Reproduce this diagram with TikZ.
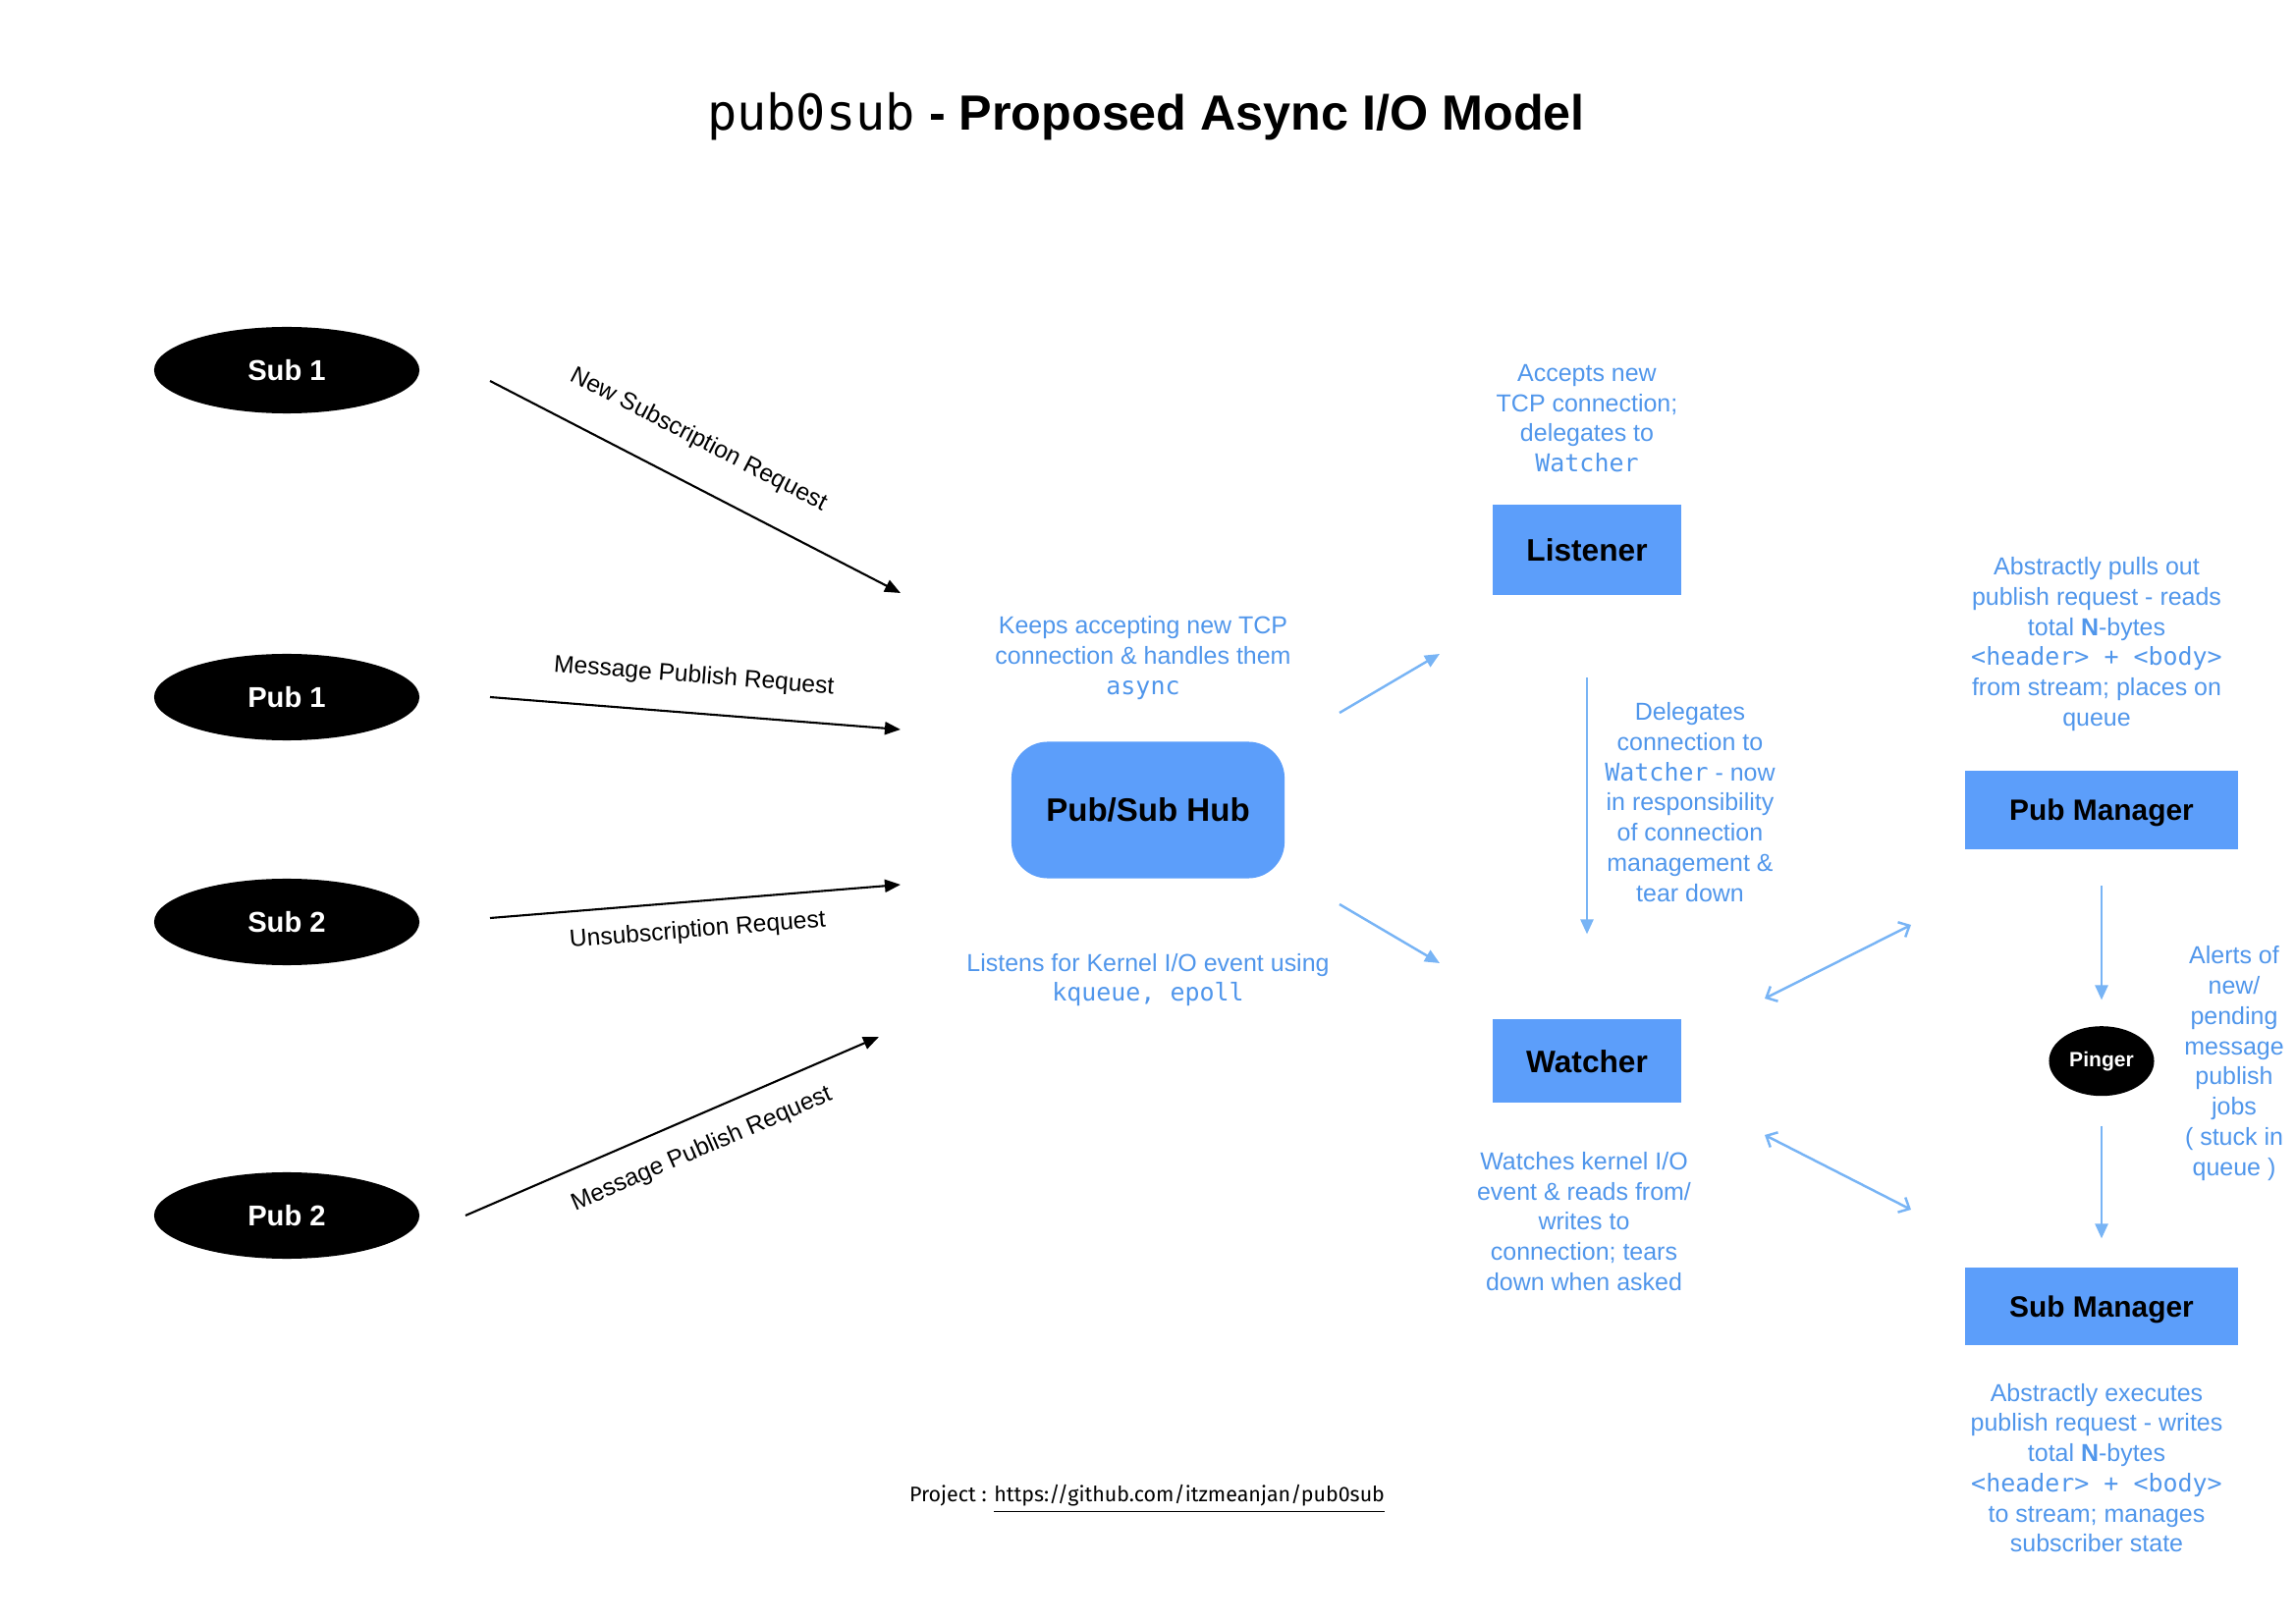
\documentclass[tikz,border=0pt]{standalone}
\usepackage{fontspec}
\setmainfont{Liberation Sans}
\setmonofont{DejaVu Sans Mono}
\newfontfamily\footfont{Fira Sans}
\usetikzlibrary{positioning}
\usetikzlibrary{calc}
\usetikzlibrary{arrows.meta}
\usetikzlibrary{shapes.geometric}

\definecolor{boxblue}{RGB}{92,158,250}
\definecolor{noteblue}{RGB}{80,150,235}
\definecolor{linkblue}{RGB}{120,180,245}

\begin{document}
\begin{tikzpicture}[x=0.01cm, y=-0.01cm,
	client/.style={ellipse, fill=black, text=white, inner sep=0pt, minimum width=2.7cm, minimum height=0.88cm, font=\fontsize{8.3pt}{10pt}\selectfont\bfseries},
	unit/.style={rectangle, fill=boxblue, inner sep=0pt, text depth=0pt, minimum width=1.91cm, font=\fontsize{9pt}{11pt}\selectfont\bfseries},
	note/.style={align=center, text=noteblue, inner sep=0pt, font=\fontsize{7.1pt}{8.75pt}\selectfont},
	req/.style={draw=black, line width=0.6pt, -{Triangle[length=0.16cm, width=0.13cm]}},
	reqlabel/.style={sloped, inner sep=0pt, font=\fontsize{7pt}{8pt}\selectfont},
	flow/.style={draw=linkblue, line width=0.7pt, -{Triangle[length=0.15cm, width=0.13cm]}},
	duplex/.style={draw=linkblue, line width=0.7pt, {Straight Barb[length=0.09cm, width=0.17cm]}-{Straight Barb[length=0.09cm, width=0.17cm]}}
	]

	\useasboundingbox (0,0) rectangle (2338,1652);

	% title
	\node [anchor=base, inner sep=0pt, font=\fontsize{14.3pt}{16pt}\selectfont] at (1167,133) (title) {{\ttfamily pub0sub} \textbf{- Proposed Async I/O Model}};

	% clients
	\foreach \name/\txt/\y in {sub1/Sub 1/377, pub1/Pub 1/710, sub2/Sub 2/939, pub2/Pub 2/1238}
	{
		\node [client] at (292,\y) (\name) {\txt};
	}

	% request arrows
	\node [coordinate] at (499,388) (sub1_out) {};
	\node [coordinate] at (917,604) (sub1_in) {};
	\node [coordinate] at (499,710) (pub1_out) {};
	\node [coordinate] at (917,743) (pub1_in) {};
	\node [coordinate] at (499,935) (sub2_out) {};
	\node [coordinate] at (917,901) (sub2_in) {};
	\node [coordinate] at (474,1238) (pub2_out) {};
	\node [coordinate] at (895,1056) (pub2_in) {};

	\draw [req] (sub1_out) -- node [reqlabel, above=9pt, pos=0.46] {New Subscription Request} (sub1_in);
	\draw [req] (pub1_out) -- node [reqlabel, above=7pt, pos=0.49] {Message Publish Request} (pub1_in);
	\draw [req] (sub2_out) -- node [reqlabel, below=5pt, pos=0.50] {Unsubscription Request} (sub2_in);
	\draw [req] (pub2_out) -- node [reqlabel, below=6pt, pos=0.54] {Message Publish Request} (pub2_in);

	% hub
	\node [unit, rounded corners=0.37cm, minimum width=2.78cm, minimum height=1.39cm, font=\fontsize{9.4pt}{11pt}\selectfont\bfseries] at (1169,825) (hub) {Pub/Sub Hub};
	\node [note] at (1164,670) (hub_top) {Keeps accepting new TCP\\connection \& handles them\\\texttt{async}};
	\node [note] at (1169,998) (hub_bottom) {Listens for Kernel I/O event using\\\texttt{kqueue, epoll}};

	% listener and watcher
	\node [unit, minimum height=0.91cm] at (1616,560) (listener) {Listener};
	\node [unit, minimum height=0.85cm, below=4.31cm of listener] (watcher) {Watcher};
	\node [note] at (1616,426) (listener_note) {Accepts new\\TCP connection;\\delegates to\\\texttt{Watcher}};
	\node [note] at (1721,817) (delegate_note) {Delegates\\connection to\\\texttt{Watcher} - now\\in responsibility\\of connection\\management \&\\tear down};
	\node [note] at (1613,1244) (watcher_note) {Watches kernel I/O\\event \& reads from/\\writes to\\connection; tears\\down when asked};

	\node [coordinate] at (1364,726) (hub_ne) {};
	\node [coordinate] at (1466,666) (listener_sw) {};
	\node [coordinate] at (1364,921) (hub_se) {};
	\node [coordinate] at (1466,981) (watcher_nw) {};
	\draw [flow] (hub_ne) -- (listener_sw);
	\draw [flow] (hub_se) -- (watcher_nw);
	\draw [flow, shorten <=0.84cm, shorten >=0.86cm] (listener) -- (watcher);

	% managers
	\node [unit, minimum width=2.77cm, minimum height=0.79cm, font=\fontsize{8.5pt}{10pt}\selectfont\bfseries] at (2140,825) (pub_mgr) {Pub Manager};
	\node [unit, minimum width=2.77cm, minimum height=0.79cm, font=\fontsize{8.5pt}{10pt}\selectfont\bfseries, below=4.25cm of pub_mgr] (sub_mgr) {Sub Manager};
	\node [client, minimum width=1.07cm, minimum height=0.71cm, font=\fontsize{6pt}{7pt}\selectfont\bfseries] at (pub_mgr |- watcher) (pinger) {Pinger};

	\node [note] at (2135,656) (pub_note) {Abstractly pulls out\\publish request - reads\\total \textbf{N}-bytes\\\texttt{<header> + <body>}\\from stream; places on\\queue};
	\node [note] at (2135,1495) (sub_note) {Abstractly executes\\publish request - writes\\total \textbf{N}-bytes\\\texttt{<header> + <body>}\\to stream; manages\\subscriber state};
	\node [note] at (2275,1083) (pinger_note) {Alerts of\\new/\\pending\\message\\publish\\jobs\\( stuck in\\queue )};

	\draw [flow, shorten <=0.37cm, shorten >=0.26cm] (pub_mgr) -- (pinger);
	\draw [flow, shorten <=0.30cm, shorten >=0.29cm] (pinger) -- (sub_mgr);

	\node [coordinate] at (1797,1017) (watcher_ne) {};
	\node [coordinate] at (1946,942) (pub_mgr_sw) {};
	\node [coordinate] at (1797,1156) (watcher_se) {};
	\node [coordinate] at (1946,1232) (sub_mgr_nw) {};
	\draw [duplex] (watcher_ne) -- (pub_mgr_sw);
	\draw [duplex] (watcher_se) -- (sub_mgr_nw);

	% footer
	\node [font=\footfont\fontsize{6.1pt}{7pt}\selectfont] at (1168,1527) (footer) {Project : \underline{https://github.com/itzmeanjan/pub0sub}};

\end{tikzpicture}
\end{document}
